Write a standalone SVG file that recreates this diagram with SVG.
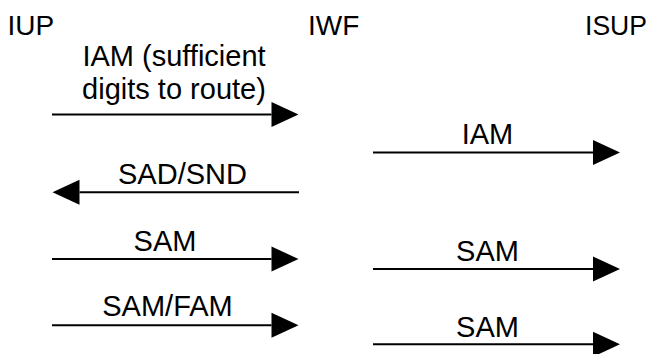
<svg xmlns="http://www.w3.org/2000/svg" width="655" height="354" viewBox="0 0 655 354">
  <style>
    text { font-family: "Liberation Sans", Arial, sans-serif; font-size: 28px; fill: #000; }
    .lbl { text-anchor: middle; font-size: 29px; }
    .msg { stroke: #000; stroke-width: 2; fill: none; marker-end: url(#head); }
  </style>
  <defs>
    <marker id="head" markerUnits="userSpaceOnUse" markerWidth="28" markerHeight="26" refX="0" refY="12.5" orient="auto" overflow="visible">
      <path d="M0,0 L27,12.5 L0,25 Z" fill="#000"/>
    </marker>
  </defs>
  <rect width="655" height="354" fill="#fff"/>

  <!-- endpoints -->
  <g id="node-iup"><text x="7.5" y="35">IUP</text></g>
  <g id="node-iwf"><text x="308" y="35">IWF</text></g>
  <g id="node-isup"><text x="585" y="35" textLength="62" lengthAdjust="spacingAndGlyphs">ISUP</text></g>

  <!-- messages -->
  <g id="connectors">
    <g id="msg-iam-iup">
      <path class="msg" d="M52,114.5 H271.5"/>
      <text class="lbl" x="174" y="65.5">IAM (sufficient</text>
      <text class="lbl" x="174" y="98.5">digits to route)</text>
    </g>
    <g id="msg-iam-isup">
      <path class="msg" d="M373,152.5 H593"/>
      <text class="lbl" x="487.5" y="144">IAM</text>
    </g>
    <g id="msg-sad-snd">
      <path class="msg" d="M299,192.3 H79.5"/>
      <text class="lbl" x="182.5" y="184">SAD/SND</text>
    </g>
    <g id="msg-sam-iup">
      <path class="msg" d="M52,259 H271.5"/>
      <text class="lbl" x="165" y="250.5">SAM</text>
    </g>
    <g id="msg-sam-isup-1">
      <path class="msg" d="M373,269 H593"/>
      <text class="lbl" x="487.5" y="261">SAM</text>
    </g>
    <g id="msg-sam-fam">
      <path class="msg" d="M52,325.3 H271.5"/>
      <text class="lbl" x="167.5" y="316">SAM/FAM</text>
    </g>
    <g id="msg-sam-isup-2">
      <path class="msg" d="M373,344.3 H593"/>
      <text class="lbl" x="487.5" y="336.5">SAM</text>
    </g>
  </g>
</svg>
